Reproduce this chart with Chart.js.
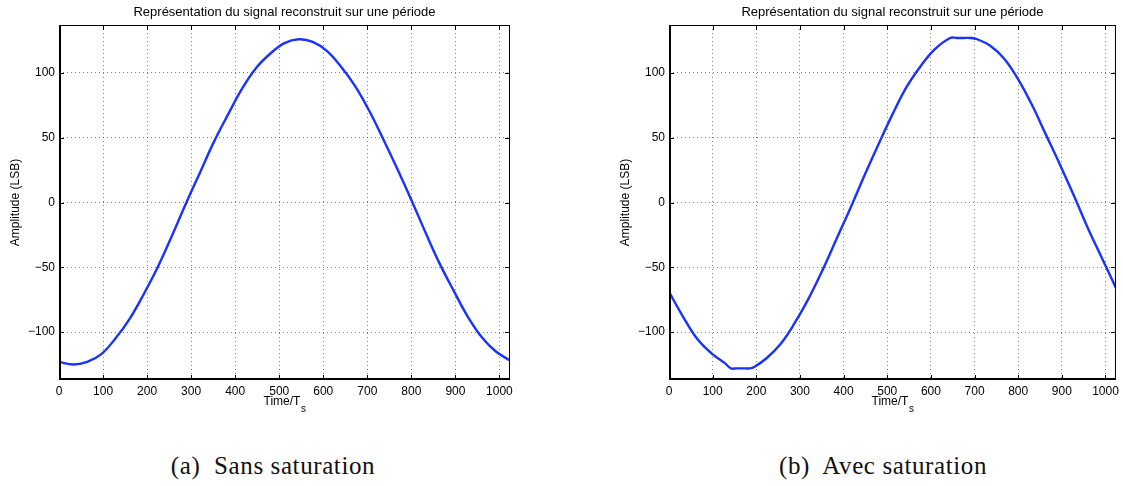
<!DOCTYPE html>
<html>
<head>
<meta charset="utf-8">
<script src="https://cdn.jsdelivr.net/npm/chart.js@4.4.1/dist/chart.umd.min.js"></script>
<style>
  html, body { margin: 0; padding: 0; background: #fff; }
  body { width: 1123px; height: 486px; position: relative; overflow: hidden; }
  .box { position: absolute; top: 0; height: 420px; }
  .cap { position: absolute; top: 450px; height: 32px; line-height: 32px; width: 400px; text-align: center;
         font-family: "Liberation Serif", "DejaVu Serif", serif; font-size: 25px; letter-spacing: 0.6px;
         color: #111; white-space: pre; }
</style>
</head>
<body>
<div class="box" style="left:0;width:561px"><canvas id="chartA" width="561" height="420"></canvas></div>
<div class="box" style="left:561px;width:562px"><canvas id="chartB" width="562" height="420"></canvas></div>
<div class="cap" style="left:73px">(a)  Sans saturation</div>
<div class="cap" style="left:683px">(b)  Avec saturation</div>
<script>
// ---- data ----
const titleText = "Représentation du signal reconstruit sur une période";
const yTitle = "Amplitude (LSB)";
const xTicks = [0, 100, 200, 300, 400, 500, 600, 700, 800, 900, 1000];
const yTicks = [-100, -50, 0, 50, 100];

// (a) Sans saturation
const timeA = [0, 32, 64, 96, 128, 160, 192, 224, 256, 288, 320, 352, 384, 416, 448, 480, 512,
               544, 576, 608, 640, 672, 704, 736, 768, 800, 832, 864, 896, 928, 960, 992, 1024];
const ampA  = [-123, -125, -123, -117, -105, -90, -71, -50, -26, -1, 23, 47, 68, 88, 104, 115, 123,
               126, 124, 117, 105, 90, 71, 49, 26, 2, -23, -47, -68, -88, -104, -115, -122];

// (b) Avec saturation
const timeB = [0, 32, 64, 96, 128, 142, 155, 170, 185, 195, 224, 256, 288, 320, 352, 384, 416, 448, 480, 512,
               544, 576, 608, 644, 660, 675, 690, 706, 736, 768, 800, 832, 864, 896, 928, 960, 992, 1024];
const ampB  = [-69, -88, -105, -116, -124, -128, -128, -128, -128, -127, -120, -109, -93, -74, -52, -28, -4, 21, 45, 68,
               89, 105, 118, 127, 127, 127, 127, 126, 121, 111, 95, 75, 52, 29, 5, -20, -43, -66];

const xRange = [0, 1024];
const yRange = [-137, 137];

// ---- styling ----
const FONT = '"Liberation Sans", Arial, Helvetica, sans-serif';
const LINE = 'rgb(25, 50, 255)';
const GRID = 'rgba(0,0,0,0.5)';

const boxPlugin = {
  id: 'matlabBox',
  afterDraw(chart) {
    const ctx = chart.ctx, a = chart.chartArea;
    const xs = chart.scales.x, ys = chart.scales.y;
    ctx.save();
    ctx.strokeStyle = '#000';
    ctx.lineWidth = 1;
    ctx.beginPath();
    ctx.moveTo(a.left, a.top + 0.5); ctx.lineTo(a.right, a.top + 0.5);
    ctx.moveTo(a.right - 0.5, a.top); ctx.lineTo(a.right - 0.5, a.bottom);
    ctx.stroke();
    ctx.lineWidth = 2;
    ctx.beginPath();
    ctx.moveTo(a.left + 1, a.top); ctx.lineTo(a.left + 1, a.bottom);
    ctx.moveTo(a.left, a.bottom - 1); ctx.lineTo(a.right, a.bottom - 1);
    ctx.stroke();
    ctx.lineWidth = 1;
    ctx.beginPath();
    xTicks.forEach(v => {
      const px = Math.round(xs.getPixelForValue(v)) + 0.5;
      ctx.moveTo(px, a.bottom); ctx.lineTo(px, a.bottom - 5);
      ctx.moveTo(px, a.top); ctx.lineTo(px, a.top + 5);
    });
    yTicks.forEach(v => {
      const py = Math.round(ys.getPixelForValue(v)) + 0.5;
      ctx.moveTo(a.left, py); ctx.lineTo(a.left + 5, py);
      ctx.moveTo(a.right, py); ctx.lineTo(a.right - 5, py);
    });
    ctx.stroke();
    // x axis title with subscript
    const cx = (a.left + a.right) / 2;
    ctx.fillStyle = '#000';
    ctx.textBaseline = 'middle';
    ctx.font = '12px ' + FONT;
    const main = 'Time/T';
    const w1 = ctx.measureText(main).width;
    ctx.font = '10px ' + FONT;
    const w2 = ctx.measureText('s').width;
    const x0 = cx - (w1 + w2) / 2;
    ctx.font = '12px ' + FONT;
    ctx.textAlign = 'left';
    ctx.fillText(main, x0, 402);
    ctx.font = '10px ' + FONT;
    ctx.fillText('s', x0 + w1 + 0.5, 409.5);
    ctx.restore();
  }
};

function makeChart(id, xs, ys, padLeft, padRight) {
  const pts = xs.map((x, i) => ({ x: x, y: ys[i] }));
  return new Chart(document.getElementById(id), {
    type: 'line',
    data: { datasets: [{ data: pts, borderColor: LINE, borderWidth: 2.4, pointRadius: 0,
                         fill: false, tension: 0.4 }] },
    options: {
      responsive: false,
      animation: false,
      events: [],
      layout: { padding: { left: padLeft, right: padRight, top: 0, bottom: 0 } },
      plugins: {
        legend: { display: false },
        tooltip: { enabled: false },
        title: { display: true, text: titleText, color: '#000', fullSize: false,
                 font: { family: FONT, size: 13, weight: 'normal', lineHeight: 1.2 },
                 padding: { top: 4.5, bottom: 4.9 } }
      },
      scales: {
        x: {
          type: 'linear', min: xRange[0], max: xRange[1],
          afterFit(s) { s.height = 40; },
          afterBuildTicks(s) { s.ticks = xTicks.map(v => ({ value: v })); },
          grid: { display: true, drawTicks: false, color: GRID, lineWidth: 1 },
          border: { display: false, dash: [1, 3] },
          ticks: { color: '#000', padding: 4, maxRotation: 0, autoSkip: false,
                   font: { family: FONT, size: 12 },
                   callback: v => String(v) }
        },
        y: {
          type: 'linear', min: yRange[0], max: yRange[1],
          afterFit(s) { s.width = 59; },
          afterBuildTicks(s) { s.ticks = yTicks.map(v => ({ value: v })); },
          grid: { display: true, drawTicks: false, color: GRID, lineWidth: 1 },
          border: { display: false, dash: [1, 3] },
          ticks: { color: '#000', padding: 4, autoSkip: false,
                   font: { family: FONT, size: 12 },
                   callback: v => (v < 0 ? '\u2212' + Math.abs(v) : String(v)) },
          title: { display: true, text: yTitle, color: '#000',
                   font: { family: FONT, size: 12 }, padding: { top: 8, bottom: 0 } }
        }
      }
    },
    plugins: [boxPlugin]
  });
}

makeChart('chartA', timeA, ampA, 0, 51);
makeChart('chartB', timeB, ampB, 49, 4);
</script>
</body>
</html>
